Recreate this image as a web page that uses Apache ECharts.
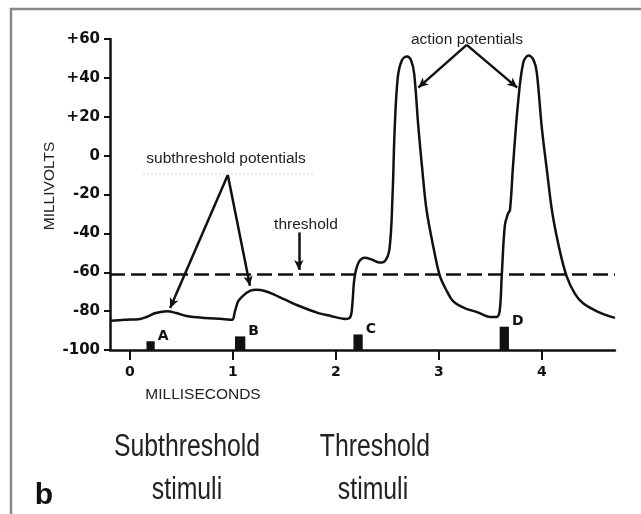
<!DOCTYPE html>
<html>
<head>
<meta charset="utf-8">
<script src="https://cdn.jsdelivr.net/npm/echarts@6/dist/echarts.min.js"></script>
<style>
  html, body { margin: 0; padding: 0; background: #fff; }
  #chart { width: 641px; height: 514px; }
</style>
</head>
<body>
<div id="chart"></div>
<script>
// membrane trace (ms, mV)
var timeMs = [-0.19, -0.05, 0.1, 0.16, 0.25, 0.36, 0.45, 0.55, 0.73, 0.9, 0.99, 1.02, 1.05, 1.1, 1.17, 1.23, 1.3, 1.4, 1.5, 1.65, 1.83, 1.95, 2.09, 2.14, 2.16, 2.18, 2.22, 2.28, 2.35, 2.42, 2.47, 2.52, 2.55, 2.57, 2.6, 2.64, 2.69, 2.73, 2.76, 2.8, 2.84, 2.88, 2.95, 3.01, 3.08, 3.14, 3.25, 3.37, 3.5, 3.56, 3.59, 3.61, 3.64, 3.67, 3.69, 3.72, 3.77, 3.82, 3.87, 3.92, 3.95, 4.0, 4.05, 4.1, 4.17, 4.24, 4.32, 4.4, 4.55, 4.71];
var voltMv = [-85, -84.5, -84, -83, -81, -80, -81, -82.5, -83.5, -84, -84.5, -80, -75, -72, -69.5, -69, -69.5, -71.5, -74, -77.5, -81, -82.5, -84, -83, -76, -63, -55, -52.5, -53.5, -55, -54.5, -48, -20, 13, 40, 49, 51, 49, 42, 15, -8, -28, -48, -62, -70, -75, -78.5, -80.5, -83, -83, -80, -62, -36, -30, -28, -5, 28, 48, 51.5, 49, 43, 14, -8, -29, -48, -62, -71, -76, -80.5, -83.5];

// stimuli
var stimLabel = ['A', 'B', 'C', 'D'];
var stimStart = [0.16, 1.02, 2.17, 3.59];
var stimEnd = [0.24, 1.12, 2.26, 3.68];
var stimTop = [-95.5, -93, -92, -88];

var thresholdMv = -61;
var xTicks = [0, 1, 2, 3, 4];

// arrows: [fromX, fromY, toX, toY]
var arrows = [
  [0.95, -10, 0.39, -78.4],
  [0.95, -10, 1.165, -67],
  [1.64, -39.5, 1.64, -58.8],
  [3.27, 57, 2.8, 35],
  [3.27, 57, 3.76, 35]
];

var chart = echarts.init(document.getElementById('chart'));

var trace = timeMs.map(function (t, i) { return [t, voltMv[i]]; });
var stim = stimLabel.map(function (l, i) { return [stimStart[i], stimEnd[i], stimTop[i], l]; });

var arrowLines = arrows.map(function (a) {
  return [
    { coord: [a[0], a[1]], symbol: 'none' },
    { coord: [a[2], a[3]], symbol: 'arrow', symbolSize: [7, 10] }
  ];
});

var txt = '#222';
var sans = 'Liberation Sans, Arial, sans-serif';

// narrow lettering for the captions below the plot
function caption(text, x, y) {
  return {
    type: 'text', x: x, y: y, scaleX: 0.8,
    style: { text: text, font: '31px ' + sans, fill: txt, align: 'center', verticalAlign: 'middle' }
  };
}

var option = {
  animation: false,
  grid: { left: 110, right: 26, top: 39, bottom: 164 },
  xAxis: {
    type: 'value',
    min: -0.194,
    max: 4.71,
    splitLine: { show: false },
    axisLine: { onZero: false, lineStyle: { color: '#111', width: 2.5 } },
    axisTick: { customValues: xTicks, length: 10, lineStyle: { color: '#111', width: 2 } },
    axisLabel: {
      customValues: xTicks,
      margin: 15,
      color: '#111',
      fontFamily: 'DejaVu Sans',
      fontWeight: 'bold',
      fontSize: 14
    }
  },
  yAxis: {
    type: 'value',
    min: -100,
    max: 60,
    interval: 20,
    splitLine: { show: false },
    axisLine: { show: true, onZero: false, lineStyle: { color: '#111', width: 2.5 } },
    axisTick: { show: true, length: 6, lineStyle: { color: '#111', width: 2 } },
    axisLabel: {
      margin: 10,
      color: '#111',
      fontFamily: 'DejaVu Sans',
      fontWeight: 'bold',
      fontSize: 15,
      formatter: function (v) { return v > 0 ? '+' + v : String(v); }
    }
  },
  series: [
    {
      name: 'membrane potential',
      type: 'line',
      data: trace,
      smooth: 0.35,
      showSymbol: false,
      lineStyle: { color: '#111', width: 2.5 },
      markLine: {
        silent: true,
        symbol: 'none',
        label: { show: false },
        lineStyle: { color: '#111', width: 2.5, type: [15, 6] },
        data: [{ yAxis: thresholdMv }]
      }
    },
    {
      name: 'stimuli',
      type: 'custom',
      data: stim,
      renderItem: function (params, api) {
        var p0 = api.coord([api.value(0), -100]);
        var p1 = api.coord([api.value(1), api.value(2)]);
        return {
          type: 'group',
          children: [
            {
              type: 'rect',
              shape: { x: p0[0], y: p1[1], width: p1[0] - p0[0], height: p0[1] - p1[1] },
              style: { fill: '#111' }
            },
            {
              type: 'text',
              x: p1[0] + 3,
              y: p1[1] - 5,
              style: {
                text: stimLabel[params.dataIndex],
                fill: '#111',
                font: 'bold 14px DejaVu Sans',
                verticalAlign: 'middle'
              }
            }
          ]
        };
      }
    },
    {
      name: 'arrows',
      type: 'line',
      data: [],
      markLine: {
        silent: true,
        label: { show: false },
        lineStyle: { color: '#111', width: 2.5, type: 'solid' },
        data: arrowLines
      }
    }
  ],
  graphic: [
    { type: 'rect', shape: { x: 11, y: 9, width: 640, height: 510 }, style: { fill: 'none', stroke: '#888', lineWidth: 2.5 } },
    { type: 'text', x: 50, y: 186, rotation: Math.PI / 2, style: { text: 'MILLIVOLTS', font: '15.5px ' + sans, fill: txt, align: 'center', verticalAlign: 'middle' } },
    { type: 'text', x: 203, y: 395, style: { text: 'MILLISECONDS', font: '15.5px ' + sans, fill: txt, align: 'center', verticalAlign: 'middle' } },
    { type: 'line', shape: { x1: 143, y1: 174, x2: 315, y2: 174 }, style: { stroke: '#e4e4e4', lineWidth: 1.5, lineDash: [2, 2] } },
    { type: 'text', x: 226, y: 159, style: { text: 'subthreshold potentials', font: '15.5px ' + sans, fill: txt, align: 'center', verticalAlign: 'middle' } },
    { type: 'text', x: 306, y: 225, style: { text: 'threshold', font: '15.5px ' + sans, fill: txt, align: 'center', verticalAlign: 'middle' } },
    { type: 'text', x: 467, y: 40, style: { text: 'action potentials', font: '15.5px ' + sans, fill: txt, align: 'center', verticalAlign: 'middle' } },
    caption('Subthreshold', 187, 447),
    caption('stimuli', 187, 490),
    caption('Threshold', 375, 447),
    caption('stimuli', 373, 490),
    { type: 'text', x: 44, y: 496, style: { text: 'b', font: 'bold 30px ' + sans, fill: '#111', align: 'center', verticalAlign: 'middle' } }
  ]
};

chart.setOption(option);
</script>
</body>
</html>
